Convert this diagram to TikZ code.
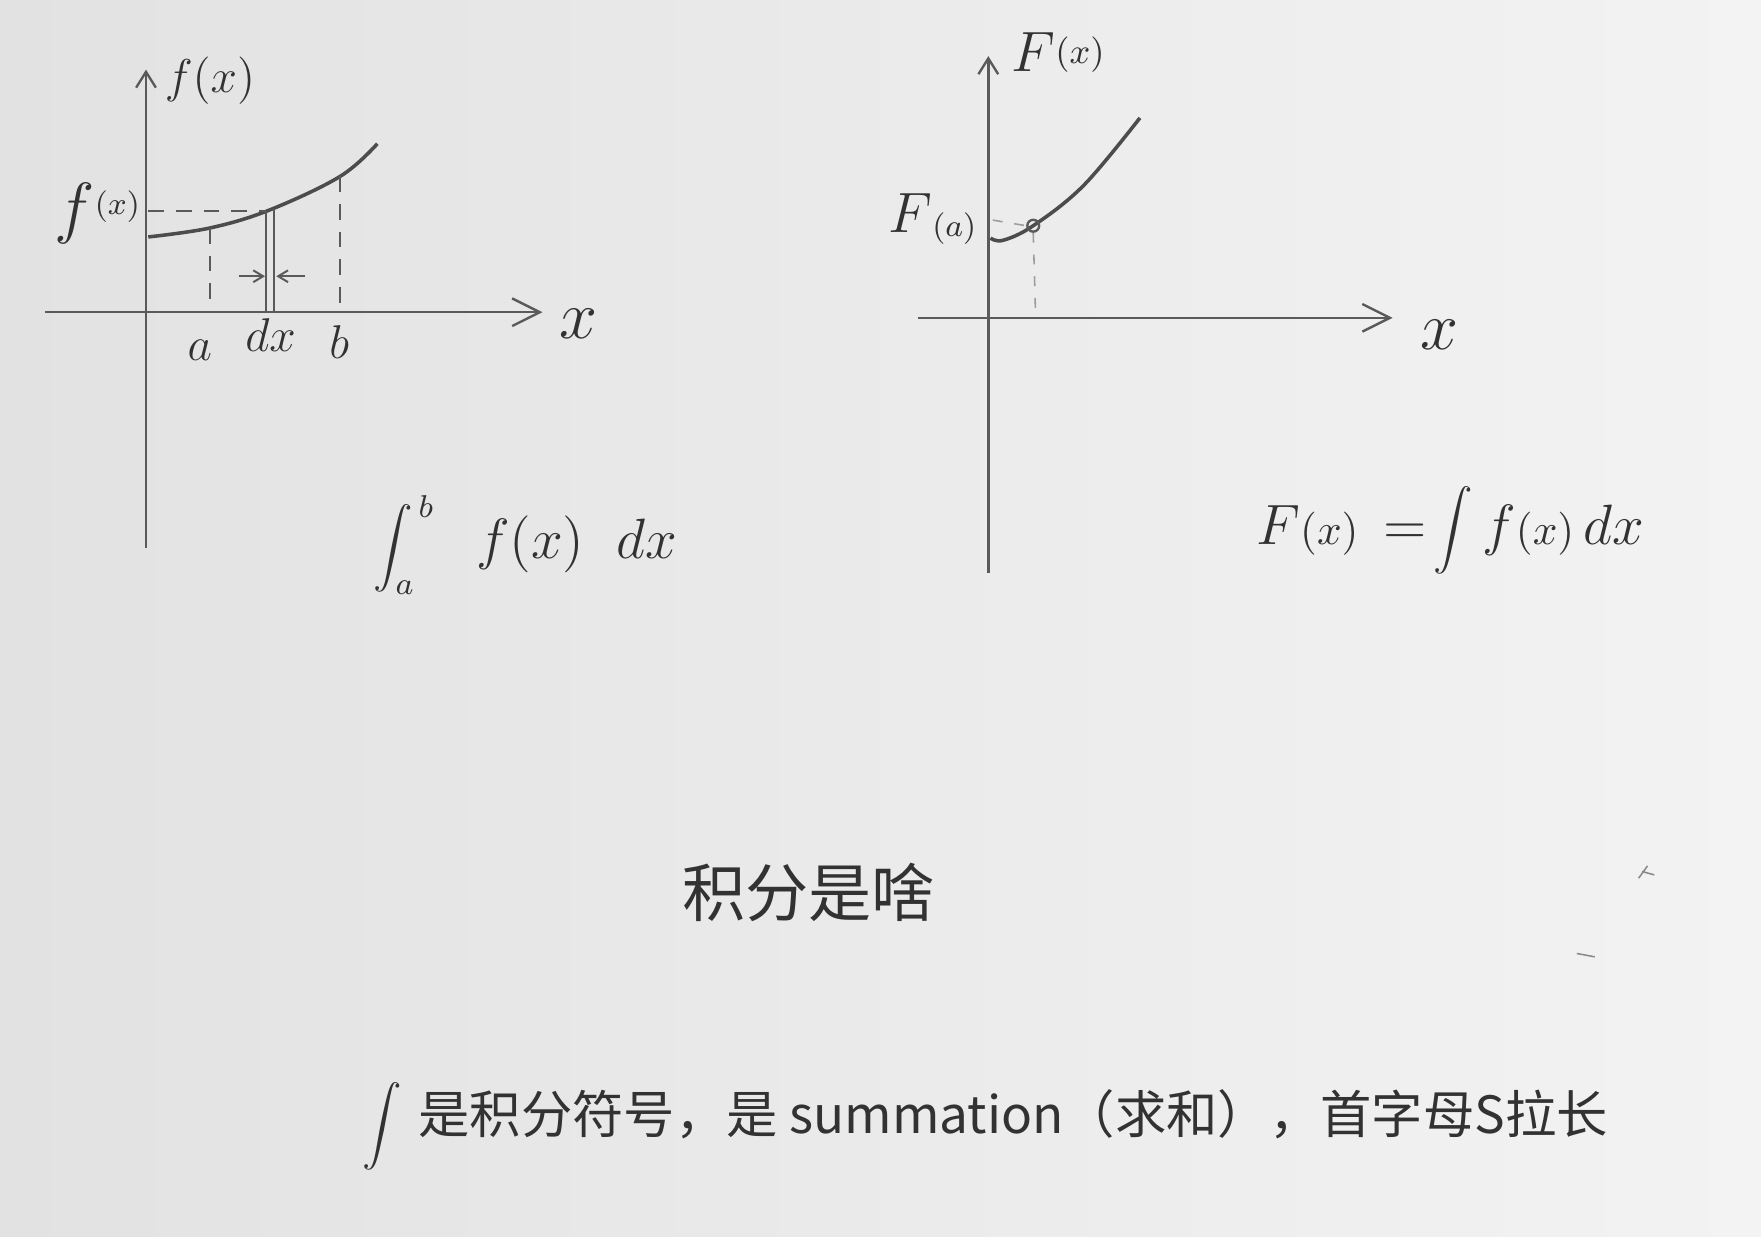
\documentclass[tikz,border=0pt]{standalone}
\usepackage{fontspec}
\newfontfamily\cjk{Noto Sans CJK SC}
\usetikzlibrary{arrows.meta}
\definecolor{paperL}{RGB}{226,226,226}
\definecolor{paperR}{RGB}{243,243,243}
\definecolor{pencil}{RGB}{90,90,90}
\definecolor{ink}{RGB}{50,50,50}
\begin{document}
\begin{tikzpicture}[x=0.01cm,y=-0.01cm,
  axis/.style={draw=pencil,line width=0.6pt},
  bigtip/.style={-{Straight Barb[length=7pt,width=7pt]}},
  uptip/.style={-{Straight Barb[length=4pt,width=5pt]}},
  smalltip/.style={-{Straight Barb[length=2.5pt,width=3pt]}},
  curvest/.style={draw=pencil!85!black,line width=0.9pt},
  guide/.style={draw=pencil,line width=0.45pt,dash pattern=on 4pt off 3pt},
  faint/.style={draw=pencil!60,line width=0.4pt,dash pattern=on 2.5pt off 3pt},
  thin/.style={draw=pencil,line width=0.5pt},
  lbl/.style={text=ink,inner sep=0pt},
  mth/.style={lbl,font=\fontsize{14}{16}\selectfont},
  cjkt/.style={lbl,font=\cjk\fontsize{16}{18}\selectfont},
  cjks/.style={lbl,font=\cjk\fontsize{13}{15}\selectfont}]
\shade[left color=paperL,right color=paperR] (0,0) rectangle (1568,1101);
\useasboundingbox (0,0) rectangle (1568,1101);

% ---------- left graph ----------
\coordinate (lYb) at (130,488);
\coordinate (lYt) at (130,62);
\coordinate (lXl) at (40,278);
\coordinate (lXr) at (483,278);
\draw[axis,uptip] (lYb) -- (lYt);
\draw[axis,bigtip] (lXl) -- (lXr);

\coordinate (c0) at (132,211);
\coordinate (ca) at (187,203);
\coordinate (cd1) at (237,188);
\coordinate (cd2) at (244,186);
\coordinate (cb) at (303,157);
\coordinate (c4) at (336,128);
\draw[curvest] plot[smooth,tension=0.6] coordinates {(132,211) (187,203) (240,187) (303,157) (336,128)};

\coordinate (ya) at (132,188);
\coordinate (axa) at (187,278);
\coordinate (axd1) at (237,278);
\coordinate (axd2) at (244,278);
\coordinate (axb) at (303,272);
\draw[guide] (ya) -- (cd1);
\draw[guide] (ca) -- (axa);
\draw[guide] (cb) -- (axb);
\draw[thin] (cd1) -- (axd1);
\draw[thin] (cd2) -- (axd2);
\coordinate (arl0) at (213,246);
\coordinate (arl1) at (236,246);
\coordinate (arr0) at (272,246);
\coordinate (arr1) at (246,246);
\draw[thin,smalltip] (arl0) -- (arl1);
\draw[thin,smalltip] (arr0) -- (arr1);

\node[mth,font=\fontsize{13}{15}\selectfont,anchor=west] (fxtop) at (146,72) {$f(x)$};
\node[lbl,font=\fontsize{17}{18}\selectfont,anchor=west] (fxleft) at (48,190) {$f$\raisebox{4pt}{\fontsize{8}{9}\selectfont$(x)$}};
\node[mth,font=\fontsize{13}{15}\selectfont] (la) at (178,312) {$a$};
\node[mth,font=\fontsize{13}{15}\selectfont] (ldx) at (241,298) {$dx$};
\node[mth,font=\fontsize{13}{15}\selectfont] (lb) at (302,305) {$b$};
\node[mth,font=\fontsize{18}{20}\selectfont] (lx) at (515,288) {$x$};

\node[mth,font=\fontsize{15}{17}\selectfont,anchor=west] (intL) at (332,485)
  {$\vcenter{\hbox{\fontsize{11.5}{13}\selectfont$\displaystyle\int_{a}^{\,b}$}}\;\;\, f(x)\;\;dx$};

% ---------- right graph ----------
\coordinate (rYb) at (880,510);
\coordinate (rYt) at (880,50);
\coordinate (rXl) at (817,283);
\coordinate (rXr) at (1240,283);
\draw[axis,uptip] (rYb) -- (rYt);
\draw[axis,bigtip] (rXl) -- (rXr);

\coordinate (rc0) at (882,212);
\coordinate (rca) at (920,201);
\coordinate (rc4) at (1015,105);
\draw[curvest] plot[smooth,tension=0.6] coordinates {(882,212) (893,214) (920,201) (965,165) (1015,105)};
\node[draw=pencil,line width=0.6pt,circle,inner sep=0pt,minimum size=3pt] (dotA) at (rca) {};
\coordinate (rya) at (884,196);
\coordinate (rxa) at (922,277);
\draw[faint] (rya) -- (dotA.west);
\draw[faint] (dotA.south) -- (rxa);

\node[lbl,font=\fontsize{15}{17}\selectfont,anchor=west] (Fxtop) at (900,47) {$F$\raisebox{2pt}{\fontsize{9}{10}\selectfont$(x)$}};
\node[lbl,font=\fontsize{14}{16}\selectfont,anchor=east] (Fa) at (870,195) {$F$\raisebox{-1pt}{\fontsize{8}{9}\selectfont$(a)$}};
\node[mth,font=\fontsize{16}{18}\selectfont] (rx) at (1282,298) {$x$};

\node[mth,font=\fontsize{15}{17}\selectfont,anchor=west] (intR) at (1118,472)
  {$F{\scriptstyle(x)}\,=\!\vcenter{\hbox{\fontsize{12.5}{14}\selectfont$\displaystyle\int$}}\,f{\scriptstyle(x)}\,dx$};

% ---------- texts ----------
\node[cjkt] (title) at (720,795) {积分是啥};

\node[lbl,font=\fontsize{11.5}{13}\selectfont] (intB) at (340,1003) {$\displaystyle\int$};
\node[cjks,anchor=west] (note) at (372,992) {是积分符号，是 summation（求和），首字母S拉长};

% stray pencil marks on the paper
\coordinate (m1) at (1459,782);
\coordinate (m2) at (1467,771);
\coordinate (m3) at (1462,776);
\coordinate (m4) at (1473,779);
\draw[draw=pencil!70,line width=0.4pt] (m1) -- (m2) (m3) -- (m4);
\coordinate (m5) at (1404,849);
\coordinate (m6) at (1420,852);
\draw[draw=pencil!70,line width=0.4pt] (m5) -- (m6);
\end{tikzpicture}
\end{document}
